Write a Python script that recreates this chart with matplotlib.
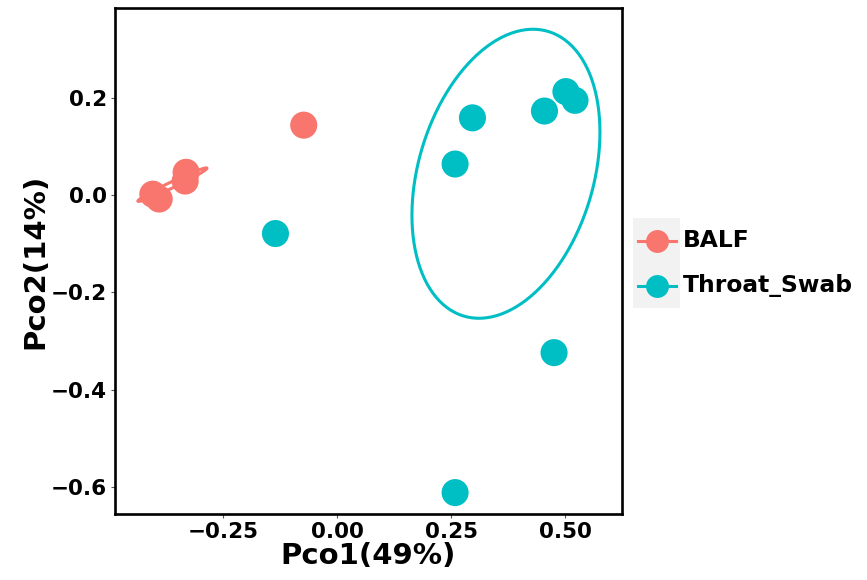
import numpy as np
import matplotlib
matplotlib.use("Agg")
import matplotlib.pyplot as plt
from matplotlib.lines import Line2D
from matplotlib.patches import Polygon

# PCoA coordinates
groups = ["BALF", "Throat_Swab"]
colors = {"BALF": "#F8766D", "Throat_Swab": "#00BFC4"}

balf_pco1 = [-0.074, -0.405, -0.391, -0.334, -0.332]
balf_pco2 = [0.144, 0.002, -0.008, 0.029, 0.047]

throat_pco1 = [0.258, 0.296, 0.454, 0.501, 0.521, -0.136, 0.475, 0.258]
throat_pco2 = [0.064, 0.159, 0.173, 0.213, 0.195, -0.079, -0.324, -0.612]

# 95% ellipses as drawn (centre + shape matrix, radius already folded in)
balf_ellipse_center = [-0.362, 0.0216]
balf_ellipse_shape = [[0.005738, 0.002558], [0.002558, 0.001187]]
throat_ellipse_center = [0.3695, 0.044]
throat_ellipse_shape = [[0.0425, 0.0176], [0.0176, 0.0884]]

x_ticks = [-0.25, 0.00, 0.25, 0.50]
y_ticks = [-0.6, -0.4, -0.2, 0.0, 0.2]
x_labels = ["\u22120.25", "0.00", "0.25", "0.50"]
y_labels = ["\u22120.6", "\u22120.4", "\u22120.2", "0.0", "0.2"]

FONT = "DejaVu Sans"


def ellipse_path(center, shape, segments=120):
    chol = np.linalg.cholesky(np.array(shape)).T
    ang = np.linspace(0, 2 * np.pi, segments, endpoint=False)
    circle = np.column_stack([np.cos(ang), np.sin(ang)])
    return np.array(center) + circle @ chol


fig = plt.figure(figsize=(8.67, 5.8), dpi=100)
ax = fig.add_axes([0.1326, 0.1138, 0.5848, 0.8724])

data = {
    "BALF": (balf_pco1, balf_pco2, balf_ellipse_center, balf_ellipse_shape),
    "Throat_Swab": (throat_pco1, throat_pco2, throat_ellipse_center, throat_ellipse_shape),
}
for g in groups:
    _, _, c, s = data[g]
    ell = ellipse_path(c, s)
    ax.add_patch(Polygon(ell, closed=True, fill=False, edgecolor=colors[g],
                         lw=2.2, zorder=2))
for g in groups:
    xs, ys, _, _ = data[g]
    ax.scatter(xs, ys, s=380, color=colors[g], edgecolors="none", zorder=3)

ax.set_xlim(-0.488, 0.624)
ax.set_ylim(-0.656, 0.385)
ax.set_xticks(x_ticks)
ax.set_xticklabels(x_labels)
ax.set_yticks(y_ticks)
ax.set_yticklabels(y_labels)
for lab in ax.get_xticklabels() + ax.get_yticklabels():
    lab.set_fontfamily(FONT)
    lab.set_fontweight("bold")
    lab.set_fontsize(15.5)
    lab.set_color("black")
ax.tick_params(length=3, width=0.8, color="#555555", pad=3)
for sp in ax.spines.values():
    sp.set_linewidth(1.9)
    sp.set_color("black")

ax.set_xlabel("Pco1(49%)", fontfamily=FONT, fontweight="bold",
              fontsize=21, labelpad=0)
ax.set_ylabel("Pco2(14%)", fontfamily=FONT, fontweight="bold",
              fontsize=21, labelpad=1)

# legend: grey key column with point + line glyphs
lax = fig.add_axes([0.730, 0.469, 0.0542, 0.155])
lax.set_facecolor("#F2F2F2")
lax.set_xlim(0, 1)
lax.set_ylim(0, 2)
for sp in lax.spines.values():
    sp.set_visible(False)
lax.set_xticks([])
lax.set_yticks([])
for i, g in enumerate(groups):
    yy = 1.5 - i
    lax.add_line(Line2D([0.1, 0.92], [yy, yy], color=colors[g], lw=2.2))
    lax.plot([0.51], [yy], marker="o", ms=16.5, color=colors[g], mec="none")
    lax.text(1.06, yy, g, fontfamily=FONT, fontweight="bold",
             fontsize=16.8, va="center", ha="left", clip_on=False)

fig.savefig("out.png", dpi=100)
